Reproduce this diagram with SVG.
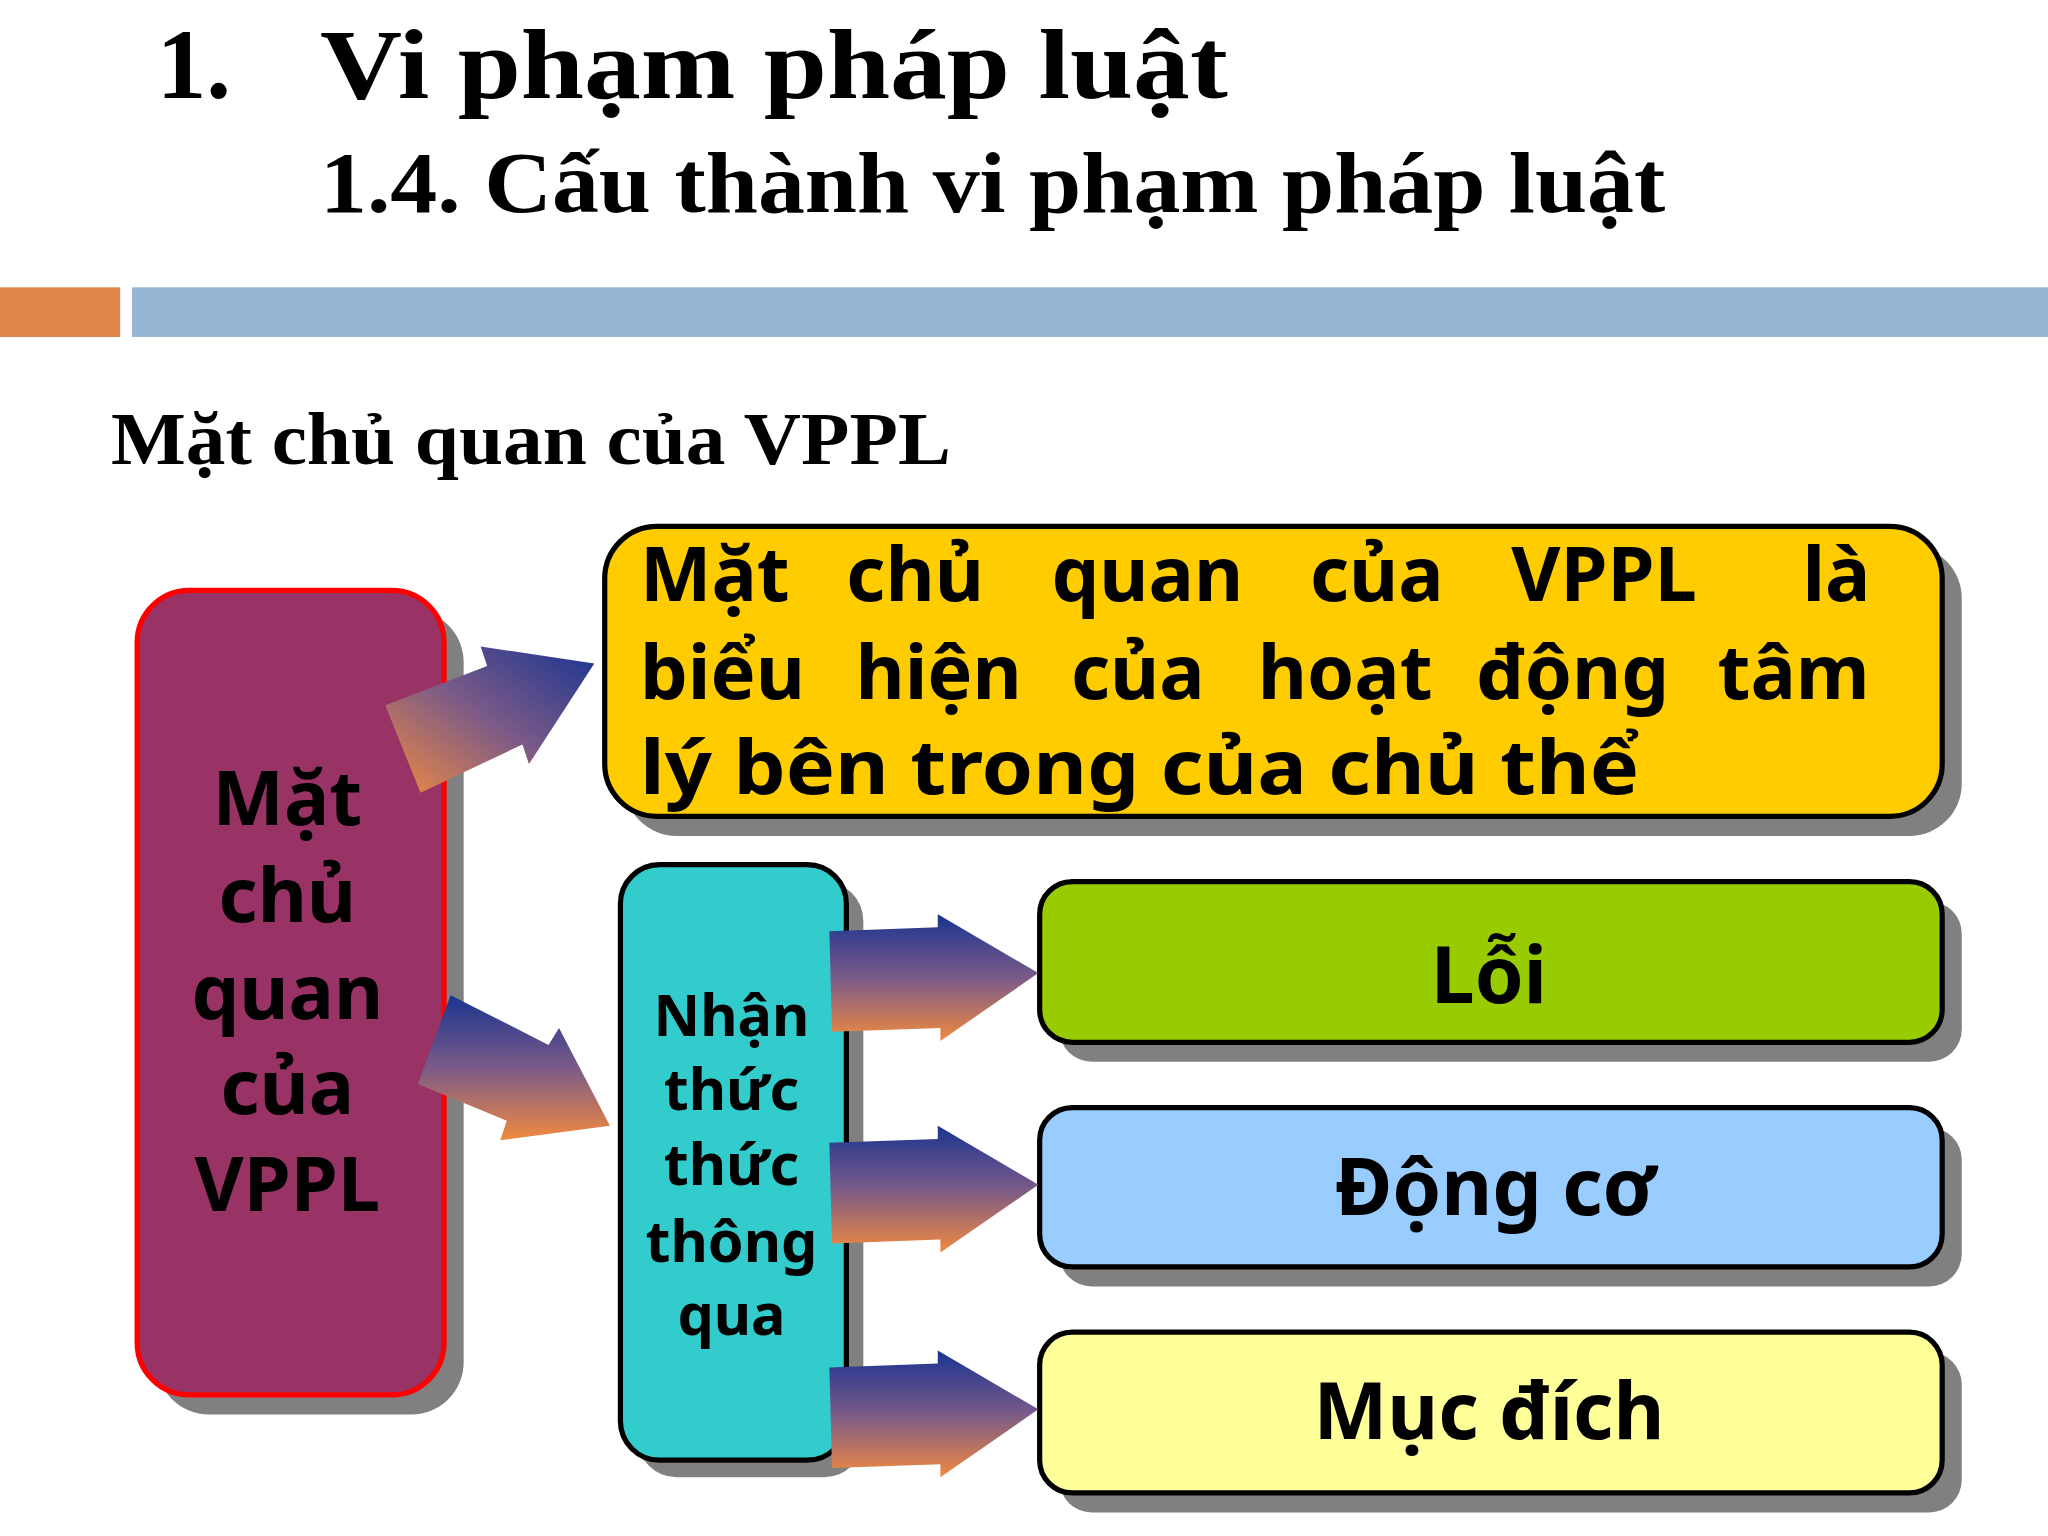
<svg xmlns="http://www.w3.org/2000/svg" width="2048" height="1536" viewBox="0 0 2048 1536">
<defs>
<linearGradient id="ag" x1="0" y1="0" x2="0" y2="1"><stop offset="0" stop-color="#1A3490"/><stop offset="0.5" stop-color="#7A5A88"/><stop offset="1" stop-color="#F08A40"/></linearGradient>
<linearGradient id="ag2" x1="1" y1="0" x2="0" y2="1"><stop offset="0" stop-color="#1A3490"/><stop offset="0.5" stop-color="#7A5A88"/><stop offset="1" stop-color="#F08A40"/></linearGradient>
</defs>
<style>
.ti{font-family:"Liberation Serif",serif;font-weight:bold;fill:#000}
.s{font-family:"Noto Sans","Open Sans",sans-serif;font-weight:bold;fill:#000}
.sh{fill:#808080}
.bx{stroke:#000;stroke-width:4}
</style>
<rect width="2048" height="1536" fill="#fff"/>
<g transform="scale(1.3061)">
<text class="ti" x="120" y="75" font-size="76">1.</text>
<text class="ti" x="245" y="75" font-size="76" textLength="695" lengthAdjust="spacingAndGlyphs">Vi phạm pháp luật</text>
<text class="ti" x="245" y="162" font-size="66" textLength="1030" lengthAdjust="spacingAndGlyphs">1.4. Cấu thành vi phạm pháp luật</text>
<rect x="0" y="220" width="92" height="38" fill="#E0864A"/>
<rect x="101" y="220" width="1467" height="38" fill="#94B6D4"/>
<text class="ti" x="85" y="355" font-size="56" textLength="643" lengthAdjust="spacingAndGlyphs">Mặt chủ quan của VPPL</text>

<g id="left">
<rect class="sh" x="120" y="467" width="235" height="616" rx="40"/>
<rect x="105" y="452" width="235" height="616" rx="40" fill="#993366" stroke="#FF0000" stroke-width="4"/>
<text class="s" font-size="58" text-anchor="middle"><tspan x="220" y="632">Mặt</tspan><tspan x="220" y="706">chủ</tspan><tspan x="220" y="780">quan</tspan><tspan x="220" y="853">của</tspan><tspan x="220" y="927">VPPL</tspan></text>
</g>
<g id="def">
<rect class="sh" x="478" y="418" width="1024" height="222" rx="40"/>
<rect class="bx" x="463" y="403" width="1024" height="222" rx="40" fill="#FFCC00"/>
<text class="s" font-size="58"><tspan x="490" y="460">Mặt</tspan><tspan x="648" y="460">chủ</tspan><tspan x="805" y="460">quan</tspan><tspan x="1003" y="460">của</tspan><tspan x="1157" y="460">VPPL</tspan><tspan x="1380" y="460">là</tspan><tspan x="490" y="535">biểu</tspan><tspan x="655" y="535">hiện</tspan><tspan x="820" y="535">của</tspan><tspan x="963" y="535">hoạt</tspan><tspan x="1130" y="535">động</tspan><tspan x="1315" y="535">tâm</tspan><tspan x="490" y="608" textLength="765" lengthAdjust="spacingAndGlyphs">lý bên trong của chủ thể</tspan></text>
</g>
<g id="nhanthuc">
<rect class="sh" x="488" y="675" width="173" height="456" rx="30"/>
<rect class="bx" x="475" y="662" width="173" height="456" rx="30" fill="#33CCCC"/>
<text class="s" font-size="44" text-anchor="middle"><tspan x="560" y="793">Nhận</tspan><tspan x="560" y="850">thức</tspan><tspan x="560" y="907">thức</tspan><tspan x="560" y="966">thông</tspan><tspan x="560" y="1022">qua</tspan></text>
</g>
<g id="loi">
<rect class="sh" x="811" y="690" width="691" height="123" rx="25"/>
<rect class="bx" x="796" y="675" width="691" height="123" rx="25" fill="#99CC00"/>
<text class="s" font-size="60" text-anchor="middle" x="1140" y="768">Lỗi</text>
</g>
<g id="dongco">
<rect class="sh" x="811" y="863" width="691" height="122" rx="25"/>
<rect class="bx" x="796" y="848" width="691" height="122" rx="25" fill="#99CCFF"/>
<text class="s" font-size="60" text-anchor="middle" x="1145" y="930">Động cơ</text>
</g>
<g id="mucdich">
<rect class="sh" x="811" y="1035" width="691" height="123" rx="25"/>
<rect class="bx" x="796" y="1020" width="691" height="123" rx="25" fill="#FFFF99"/>
<text class="s" font-size="60" text-anchor="middle" x="1140" y="1102">Mục đích</text>
</g>
<g id="connectors">
<polygon fill="url(#ag2)" points="295,540 373,510 368,495 455,508 405,585 400,570 322,607"/>
<polygon fill="url(#ag)" points="345,762 420,800 428,787 467,862 383,873 388,858 320,830"/>
<polygon fill="url(#ag)" points="635,713 718,710 718,700 795,745 720,797 720,787 637,790"/>
<polygon fill="url(#ag)" points="635,875 718,872 718,862 795,907 720,959 720,949 637,952"/>
<polygon fill="url(#ag)" points="635,1047 718,1044 718,1034 795,1079 720,1131 720,1121 637,1124"/>
</g>
</g>
</svg>
